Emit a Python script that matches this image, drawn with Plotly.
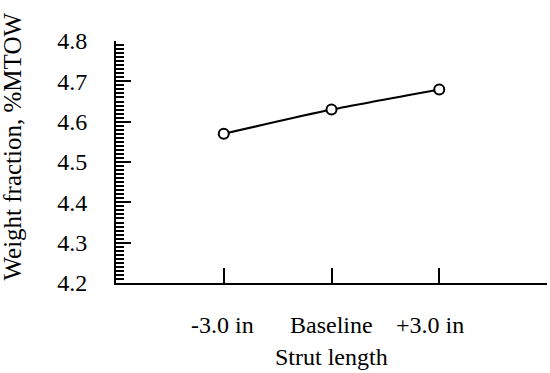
import plotly.graph_objects as go

categories = ["-3.0 in", "Baseline", "+3.0 in"]
weight_fraction = [4.57, 4.63, 4.68]
y_ticks = [4.2, 4.3, 4.4, 4.5, 4.6, 4.7, 4.8]
x_title = "Strut length"
y_title = "Weight fraction, %MTOW"

FONT = "Liberation Serif"
xpos = [i + 1 for i in range(len(categories))]
label_offsets = [-0.015, 0.0, -0.09]

fig = go.Figure()
fig.add_trace(go.Scatter(
    x=xpos, y=weight_fraction, mode="lines+markers",
    line=dict(color="black", width=2, shape="spline", smoothing=0.6),
    marker=dict(symbol="circle", size=10, color="white",
                line=dict(color="black", width=2)),
    showlegend=False, cliponaxis=False,
))

for i, cat in enumerate(categories):
    fig.add_annotation(x=xpos[i] + label_offsets[i], y=-0.174, xref="x", yref="paper",
                       text=cat, showarrow=False, xanchor="center", yanchor="middle",
                       font=dict(family=FONT, size=24, color="black"))
fig.add_annotation(x=0.5, y=-0.306, xref="paper", yref="paper", text=x_title,
                   showarrow=False, xanchor="center", yanchor="middle",
                   font=dict(family=FONT, size=24, color="black"))
fig.add_annotation(x=-0.24, y=0.562, xref="paper", yref="paper", text=y_title,
                   textangle=-90, showarrow=False, xanchor="center", yanchor="middle",
                   borderpad=0,
                   font=dict(family=FONT, size=25, color="black"))

fig.update_xaxes(range=[0, len(categories) + 1], tickvals=xpos + [len(categories) + 1],
                 showticklabels=False, ticks="inside", ticklen=15, tickwidth=2,
                 tickcolor="black", showline=True, linecolor="black", linewidth=2,
                 showgrid=False, zeroline=False, fixedrange=True)
fig.update_yaxes(range=[y_ticks[0], y_ticks[-1]], tickvals=y_ticks,
                 ticktext=[f"{v:.1f}" for v in y_ticks],
                 ticks="inside", ticklen=15, tickwidth=2, tickcolor="black",
                 ticklabelstandoff=22,
                 minor=dict(dtick=0.01, ticks="inside", ticklen=8, tickwidth=2,
                            tickcolor="black", showgrid=False),
                 showline=True, linecolor="black", linewidth=2,
                 showgrid=False, zeroline=False, fixedrange=True,
                 tickfont=dict(family=FONT, size=24, color="black"))

fig.update_layout(
    width=550, height=373,
    margin=dict(l=116, r=3, t=41, b=90),
    plot_bgcolor="white", paper_bgcolor="white",
    font=dict(family=FONT, size=24, color="black"),
)

fig.write_html("out.html", config={"displayModeBar": False},
               post_script="document.body.style.margin='0';")
